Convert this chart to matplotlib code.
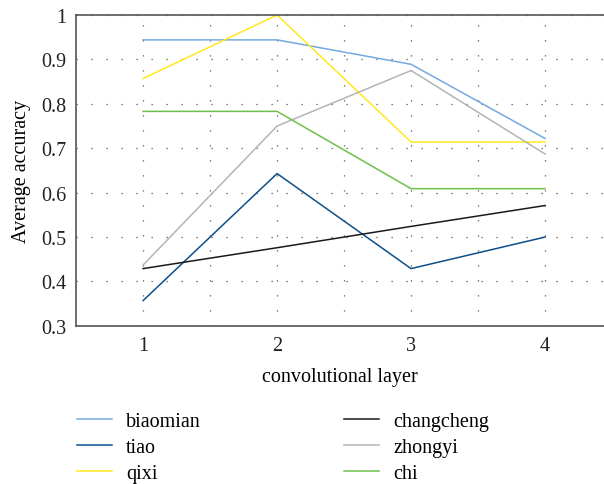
import matplotlib
matplotlib.use('Agg')
import matplotlib.pyplot as plt

# convolutional layer index
layers = [1, 2, 3, 4]

biaomian = [0.944, 0.944, 0.889, 0.722]
tiao = [0.357, 0.643, 0.429, 0.500]
qixi = [0.857, 1.000, 0.714, 0.714]
changcheng = [0.429, 0.476, 0.524, 0.571]
zhongyi = [0.437, 0.750, 0.875, 0.687]
chi = [0.783, 0.783, 0.609, 0.609]

names = ['biaomian', 'tiao', 'qixi', 'changcheng', 'zhongyi', 'chi']
colors = ['#74a9e0', '#0d4f8b', '#ffe81e', '#1a1a1a', '#b4b4b4', '#6cc04a']
y_ticks = [0.3, 0.4, 0.5, 0.6, 0.7, 0.8, 0.9, 1.0]
y_tick_labels = ['0.3', '0.4', '0.5', '0.6', '0.7', '0.8', '0.9', '1']

plt.rcParams['font.family'] = ['Liberation Serif', 'DejaVu Serif']
plt.rcParams['font.size'] = 14.5

fig = plt.figure(figsize=(6.04, 4.85), dpi=100)
ax = fig.add_axes([0.126, 0.326, 0.874, 0.641])

series = [biaomian, tiao, qixi, changcheng, zhongyi, chi]
for vals, name, c in zip(series, names, colors):
    ax.plot(layers, vals, c=c, linewidth=1.1, label=name)

ax.set_xlim(0.5, 4.44)
ax.set_ylim(0.3, 1.0)
ax.set_xticks(layers)
ax.set_yticks(y_ticks)
ax.set_yticklabels(y_tick_labels)
ax.set_xticks([1.5, 2.5, 3.5], minor=True)
ax.tick_params(which='both', length=0, pad=7, colors='#222222')

ax.grid(which='both', c='#555555', linewidth=0.9, linestyle=(0, (1, 11)))
ax.set_axisbelow(True)

for s in ['left', 'bottom', 'top']:
    ax.spines[s].set_color('#555555')
    ax.spines[s].set_linewidth(1.2)
ax.spines['right'].set_visible(False)

ax.set_xlabel('convolutional layer', labelpad=9)
ax.set_ylabel('Average accuracy', labelpad=7)

fig.legend(loc='upper left', bbox_to_anchor=(0.114, 0.165), bbox_transform=fig.transFigure,
           ncol=2, frameon=False, handlelength=1.75, handletextpad=0.7,
           columnspacing=7.1, labelspacing=0.33, borderaxespad=0)

fig.savefig('out.png', dpi=100)
